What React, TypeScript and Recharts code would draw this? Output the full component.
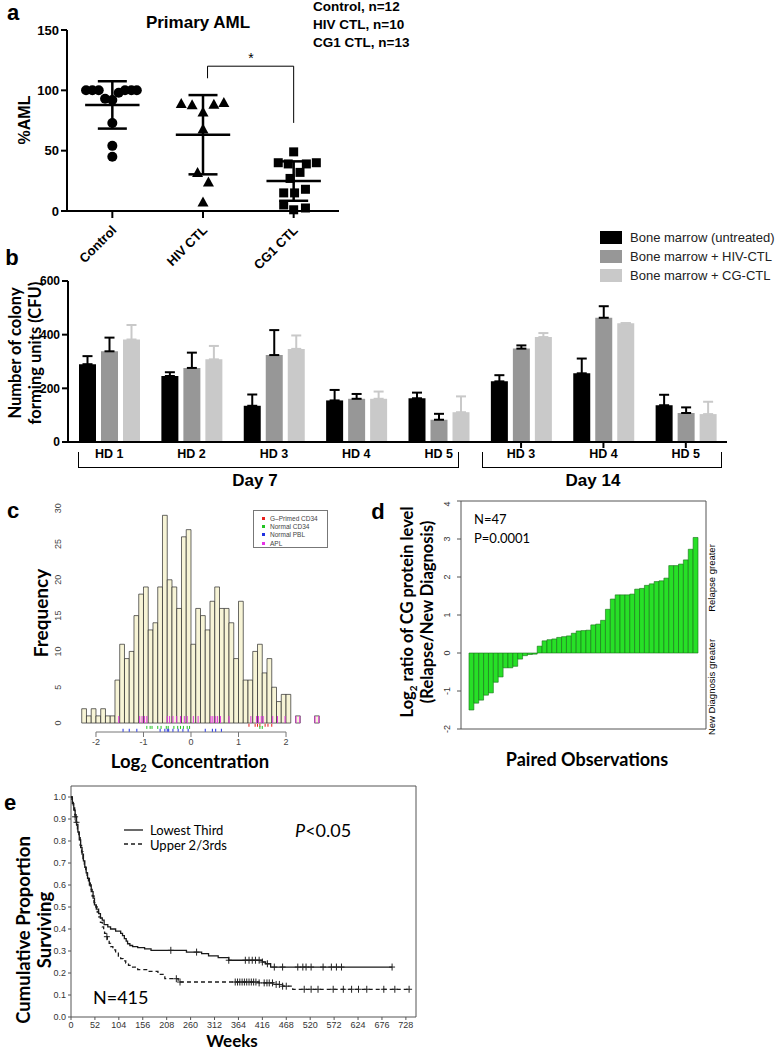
import React from 'react';
import {
  Bar,
  BarChart,
  ComposedChart,
  ErrorBar,
  Legend,
  Line,
  ReferenceArea,
  ReferenceLine,
  Scatter,
  ScatterChart,
  XAxis,
  YAxis,
} from 'recharts';

const ARIAL = '"Liberation Sans", Arial, sans-serif';
const CALIBRI = 'Lato, "Open Sans", sans-serif';

// a: primary AML killing
const amlGroups = ['Control', 'HIV CTL', 'CG1 CTL'];
const amlCounts = ['Control, n=12', 'HIV CTL, n=10', 'CG1 CTL, n=13'];
const controlAml = [100, 100, 100, 93, 92, 98, 100, 100, 100, 73, 54, 45];
const controlJitter = [-0.29, -0.22, -0.15, -0.08, 0, 0.07, 0.14, 0.21, 0.27, 0, 0, 0];
const hivAml = [89, 88, 82, 88.5, 90, 68, 32, 24, 7.5];
const hivJitter = [-0.24, -0.12, 0, 0.12, 0.23, 0, -0.06, 0.06, 0];
const cg1Aml = [49, 40, 39, 40, 39, 32, 27, 18, 15, 15, 5, 2.5, 1];
const cg1Jitter = [0, -0.17, -0.06, 0.25, 0.14, 0.07, -0.04, 0.13, -0.11, 0.01, -0.11, 0.13, 0];
const sigBracket = { from: 2.05, to: 3, top: 120, leftEnd: 110, rightEnd: 73 };

// b: colony forming units
const cfuDonors = ['HD 1', 'HD 2', 'HD 3', 'HD 4', 'HD 5', 'HD 3', 'HD 4', 'HD 5'];
const cfuUntreated = [290, 246, 135, 155, 163, 226, 256, 137];
const cfuUntreatedErr = [30, 14, 42, 39, 21, 23, 55, 39];
const cfuHiv = [338, 276, 324, 161, 83, 348, 463, 108];
const cfuHivErr = [51, 57, 93, 18, 22, 12, 43, 21];
const cfuCg = [382, 308, 347, 161, 111, 391, 443, 104];
const cfuCgErr = [54, 50, 50, 27, 59, 15, 0, 46];
const cfuSeries = ['Bone marrow (untreated)', 'Bone marrow + HIV-CTL', 'Bone marrow + CG-CTL'];
const cfuColors = ['#000000', '#979797', '#c9c9c9'];

// c: histogram of log2 concentration
const histStart = -2.3;
const binWidth = 0.1;
const freqCounts = [
  2, 1, 2, 1, 2, 1, 1, 6, 11, 9, 10, 15, 18, 19, 13, 14, 19, 29, 20, 19, 16, 26, 27, 11, 16,
  15, 13, 17, 19, 16, 16, 14, 9, 17, 6, 6, 10, 11, 7, 9, 5, 3, 4, 4, 0, 1, 0, 0, 0, 1,
];
const aplRug = [
  -1.52, -1.08, -1.03, -0.98, -0.93, -0.5, -0.45, -0.38, -0.3, -0.22, -0.14, -0.08, 0.05, 0.15,
  0.42, 0.46, 0.52, 0.56, 0.62, 0.8, 1.26, 1.38, 1.42, 1.48, 1.52, 1.72, 1.82, 1.98, 2.21, 2.29,
  2.61, 2.69,
];
const cd34Rug = [-0.93, -0.86, -0.82, -0.7, -0.63, -0.52, -0.48, -0.36, -0.28, -0.22, -0.16, -0.08, -0.03, 1.45, 1.5];
const pblRug = [-1.43, -1.3, -1.14, -0.65, -0.55, -0.5, -0.47, -0.38, -0.27, -0.17, -0.06, 0.3, 0.45, 0.52, 0.64];
const gPrimedRug = [1.22, 1.35, 1.4, 1.45, 1.56, 1.62, 1.7];
const rugNames = ['G\u2013Primed CD34', 'Normal CD34', 'Normal PBL', 'APL'];
const rugColors = ['#e8201e', '#22c322', '#2030e0', '#e533e5'];

// d: paired relapse / new diagnosis ratios
const ratioVals = [
  -1.5, -1.32, -1.24, -1.11, -1.05, -0.77, -0.63, -0.39, -0.39, -0.35, -0.16, -0.07, -0.04, -0.03,
  0.18, 0.32, 0.35, 0.37, 0.41, 0.43, 0.45, 0.52, 0.58, 0.59, 0.6, 0.74, 0.76, 0.86, 1.15, 1.42,
  1.53, 1.53, 1.53, 1.55, 1.68, 1.7, 1.78, 1.82, 1.88, 1.9, 1.97, 2.3, 2.3, 2.34, 2.45, 2.73, 3.04,
];

// e: survival
const lowestWeeks = [
  0, 3, 6, 9, 12, 15, 18, 21, 24, 27, 30, 33, 36, 40, 44, 48, 51, 55, 60, 64, 68, 72, 80, 86, 97,
  108, 112, 116, 120, 123, 128, 134, 145, 160, 174, 251, 284, 299, 320, 343, 416, 423, 434, 698,
];
const lowestSurv = [
  1.0, 0.97, 0.94, 0.91, 0.875, 0.84, 0.805, 0.77, 0.74, 0.71, 0.68, 0.655, 0.63, 0.6, 0.57, 0.54,
  0.51, 0.49, 0.47, 0.45, 0.44, 0.42, 0.41, 0.4, 0.39, 0.38, 0.37, 0.356, 0.345, 0.333, 0.325, 0.32,
  0.315, 0.31, 0.303, 0.295, 0.288, 0.278, 0.27, 0.258, 0.25, 0.242, 0.227, 0.227,
];
const lowestCensored = [9, 217, 273, 343, 379, 387, 394, 401, 409, 416, 427, 442, 460, 493, 504, 511, 522, 548, 566, 577, 588, 698];
const upperWeeks = [
  0, 2, 5, 8, 11, 14, 17, 20, 23, 26, 29, 32, 35, 38, 42, 46, 50, 54, 57, 60, 64, 68, 71, 73, 76,
  79, 83, 86, 91, 97, 103, 108, 113, 119, 125, 130, 145, 167, 189, 204, 233, 409, 440, 460, 482, 735,
];
const upperSurv = [
  1.0, 0.98, 0.95, 0.92, 0.885, 0.85, 0.815, 0.78, 0.75, 0.72, 0.69, 0.66, 0.635, 0.61, 0.58, 0.55,
  0.52, 0.5, 0.477, 0.455, 0.43, 0.41, 0.395, 0.38, 0.365, 0.35, 0.335, 0.32, 0.305, 0.29, 0.277,
  0.265, 0.255, 0.245, 0.235, 0.227, 0.215, 0.207, 0.194, 0.174, 0.159, 0.155, 0.148, 0.14, 0.126, 0.126,
];
const upperCensored = [
  12, 78, 229, 237, 357, 362, 367, 372, 377, 382, 387, 392, 397, 402, 409, 420, 426, 431, 438, 446,
  453, 460, 468, 507, 522, 537, 570, 592, 610, 625, 643, 680, 704, 735,
];
const weekTicks = [0, 52, 104, 156, 208, 260, 312, 364, 416, 468, 520, 572, 624, 676, 728];
const survTicks = [0, 0.1, 0.2, 0.3, 0.4, 0.5, 0.6, 0.7, 0.8, 0.9, 1.0];

type TxtProps = {
  x: number;
  y: number;
  children: React.ReactNode;
  size?: number;
  weight?: number;
  family?: string;
  rotate?: number;
  align?: 'start' | 'middle';
  color?: string;
};

function Txt({ x, y, children, size = 14, weight = 700, family = ARIAL, rotate = 0, align = 'middle', color = '#000' }: TxtProps) {
  const tx = align === 'middle' ? '-50%' : '0';
  return (
    <div
      style={{
        position: 'absolute',
        left: x,
        top: y,
        transform: `translate(${tx}, -50%) rotate(${rotate}deg)`,
        fontSize: size,
        fontWeight: weight,
        fontFamily: family,
        color,
        whiteSpace: 'nowrap',
        lineHeight: 1,
      }}
    >
      {children}
    </div>
  );
}

const meanSd = (v: number[]) => {
  const m = v.reduce((a, b) => a + b, 0) / v.length;
  const sd = Math.sqrt(v.reduce((a, b) => a + (b - m) ** 2, 0) / (v.length - 1));
  return { m, sd };
};

const markShape = (kind: string) => (p: any) => {
  const { cx, cy } = p;
  if (kind === 'circle') return <circle cx={cx} cy={cy} r={5} fill="#000" />;
  if (kind === 'triangle') return <path d={`M${cx},${cy - 5.5}L${cx + 5.5},${cy + 4.5}L${cx - 5.5},${cy + 4.5}Z`} fill="#000" />;
  return <rect x={cx - 4.5} y={cy - 4.5} width={9} height={9} fill="#000" />;
};

function AmlTick(props: any) {
  const { x, y, payload } = props;
  const tx = x + 5;
  const ty = y + 11;
  return (
    <text x={tx} y={ty} transform={`rotate(-45 ${tx} ${ty})`} textAnchor="end" fontFamily={ARIAL} fontWeight={700} fontSize={13} fill="#000">
      {amlGroups[payload.value - 1]}
    </text>
  );
}

function PanelA() {
  const sets = [
    { vals: controlAml, jit: controlJitter, kind: 'circle' },
    { vals: hivAml, jit: hivJitter, kind: 'triangle' },
    { vals: cg1Aml, jit: cg1Jitter, kind: 'square' },
  ];
  const bar = { stroke: '#000', strokeWidth: 2.5 };
  return (
    <div style={{ position: 'absolute', left: 0, top: 0 }}>
      <ScatterChart width={460} height={275} margin={{ top: 30, right: 121, bottom: 14, left: 0 }}>
        <XAxis
          type="number"
          dataKey="x"
          domain={[0.5, 3.5]}
          ticks={[1, 2, 3]}
          height={50}
          tickSize={7}
          tickLine={{ stroke: '#000', strokeWidth: 2 }}
          axisLine={{ stroke: '#000', strokeWidth: 2 }}
          tick={<AmlTick />}
        />
        <YAxis
          type="number"
          dataKey="y"
          domain={[0, 150]}
          ticks={[0, 50, 100, 150]}
          width={67}
          tickSize={6}
          tickLine={{ stroke: '#000', strokeWidth: 2 }}
          axisLine={{ stroke: '#000', strokeWidth: 2 }}
          tick={{ fontFamily: ARIAL, fontWeight: 700, fontSize: 13, fill: '#000' }}
        />
        {sets.map((s, gi) => {
          const { m, sd } = meanSd(s.vals);
          const c = gi + 1;
          return [
            <ReferenceLine key={`m${gi}`} segment={[{ x: c - 0.3, y: m }, { x: c + 0.3, y: m }]} {...bar} />,
            <ReferenceLine key={`v${gi}`} segment={[{ x: c, y: m - sd }, { x: c, y: m + sd }]} {...bar} />,
            <ReferenceLine key={`h${gi}`} segment={[{ x: c - 0.16, y: m + sd }, { x: c + 0.16, y: m + sd }]} {...bar} />,
            <ReferenceLine key={`l${gi}`} segment={[{ x: c - 0.16, y: m - sd }, { x: c + 0.16, y: m - sd }]} {...bar} />,
          ];
        })}
        <ReferenceLine segment={[{ x: sigBracket.from, y: sigBracket.leftEnd }, { x: sigBracket.from, y: sigBracket.top }]} stroke="#000" strokeWidth={1} />
        <ReferenceLine segment={[{ x: sigBracket.from, y: sigBracket.top }, { x: sigBracket.to, y: sigBracket.top }]} stroke="#000" strokeWidth={1} />
        <ReferenceLine segment={[{ x: sigBracket.to, y: sigBracket.top }, { x: sigBracket.to, y: sigBracket.rightEnd }]} stroke="#000" strokeWidth={1} />
        {sets.map((s, gi) => (
          <Scatter
            key={gi}
            data={s.vals.map((y, i) => ({ x: gi + 1 + s.jit[i], y }))}
            shape={markShape(s.kind)}
            isAnimationActive={false}
          />
        ))}
      </ScatterChart>
      <Txt x={13} y={13} size={22}>a</Txt>
      <Txt x={198} y={22} size={17}>Primary AML</Txt>
      <Txt x={251} y={58} size={14} weight={400}>*</Txt>
      {amlCounts.map((t, i) => (
        <Txt key={t} x={313} y={7 + i * 18} size={13.5} align="start">{t}</Txt>
      ))}
      <Txt x={25} y={120} size={16} rotate={-90}>%AML</Txt>
    </div>
  );
}

function HdTick(props: any) {
  const { x, y, payload, index } = props;
  return (
    <g>
      {index >= 5 && <line x1={x} x2={x} y1={y - 8} y2={y - 2} stroke="#000" strokeWidth={2} />}
      <text x={x} y={y + 7.5} textAnchor="middle" fontFamily={ARIAL} fontWeight={700} fontSize={12.5} fill="#000">
        {payload.value}
      </text>
    </g>
  );
}

function PanelB() {
  const data = cfuDonors.map((name, i) => ({
    name,
    untreated: cfuUntreated[i],
    untreatedErr: [0, cfuUntreatedErr[i]],
    hiv: cfuHiv[i],
    hivErr: [0, cfuHivErr[i]],
    cg: cfuCg[i],
    cgErr: [0, cfuCgErr[i]],
  }));
  const keys = ['untreated', 'hiv', 'cg'];
  const errColors = ['#000000', '#000000', '#c9c9c9'];
  return (
    <div style={{ position: 'absolute', left: 0, top: 228 }}>
      <BarChart width={778} height={270} data={data} margin={{ top: 53, right: 51, bottom: 32, left: 0 }} barGap={5}>
        <XAxis
          dataKey="name"
          height={24}
          tickLine={false}
          axisLine={{ stroke: '#000', strokeWidth: 2 }}
          tick={<HdTick />}
          interval={0}
        />
        <YAxis
          domain={[0, 600]}
          ticks={[0, 200, 400, 600]}
          width={68}
          tickSize={6}
          tickLine={{ stroke: '#000', strokeWidth: 2 }}
          axisLine={{ stroke: '#000', strokeWidth: 2 }}
          tick={{ fontFamily: ARIAL, fontWeight: 700, fontSize: 12, fill: '#000' }}
        />
        {keys.map((k, i) => (
          <Bar key={k} dataKey={k} name={cfuSeries[i]} fill={cfuColors[i]} barSize={17} isAnimationActive={false}>
            <ErrorBar dataKey={`${k}Err`} width={5} stroke={errColors[i]} strokeWidth={2} direction="y" />
          </Bar>
        ))}
        <Legend
          layout="horizontal"
          verticalAlign="middle"
          align="center"
          wrapperStyle={{ top: 0, left: 600, width: 178 }}
          content={() => (
            <div>
              {cfuSeries.map((s, i) => (
                <div key={s} style={{ display: 'flex', alignItems: 'center', height: 19 }}>
                  <span style={{ width: 22, height: 13, background: cfuColors[i], marginRight: 8, flex: 'none' }} />
                  <span style={{ fontSize: 13, fontFamily: ARIAL, color: '#222', whiteSpace: 'nowrap' }}>{s}</span>
                </div>
              ))}
            </div>
          )}
        />
      </BarChart>
      <div style={{ position: 'absolute', left: 78, top: 224, width: 379, height: 15, borderLeft: '1px solid #000', borderRight: '1px solid #000', borderBottom: '1px solid #000' }} />
      <div style={{ position: 'absolute', left: 482, top: 224, width: 238, height: 15, borderLeft: '1px solid #000', borderRight: '1px solid #000', borderBottom: '1px solid #000' }} />
      <Txt x={255} y={252} size={17}>Day 7</Txt>
      <Txt x={593} y={252} size={17}>Day 14</Txt>
      <Txt x={12} y={30} size={22}>b</Txt>
      <Txt x={15} y={125} size={16.5} family={CALIBRI} rotate={-90}>Number of colony</Txt>
      <Txt x={35} y={125} size={16.5} family={CALIBRI} rotate={-90}>forming units (CFU)</Txt>
    </div>
  );
}

const rotYTick = (shift: number, color: string) => (props: any) => {
  const { x, y, payload } = props;
  const tx = x + shift;
  return (
    <text x={tx} y={y} transform={`rotate(-90 ${tx} ${y})`} textAnchor="middle" fontSize={9} fill={color} fontFamily={ARIAL}>
      {payload.value}
    </text>
  );
};

const rugShape = (color: string, up: number, down: number) => (p: any) => (
  <line x1={p.cx} x2={p.cx} y1={p.cy - up} y2={p.cy + down} stroke={color} strokeWidth={1} />
);

function PanelC() {
  const bins = freqCounts.map((count, i) => ({ x: +(histStart + (i + 0.5) * binWidth).toFixed(3), count }));
  const rugs = [
    { vals: gPrimedRug, y: -0.1, up: 0, down: 3, color: rugColors[0] },
    { vals: cd34Rug, y: -0.4, up: 0, down: 3, color: rugColors[1] },
    { vals: pblRug, y: -0.8, up: 0, down: 3, color: rugColors[2] },
    { vals: aplRug, y: 0, up: 7, down: 0, color: rugColors[3] },
  ];
  return (
    <div style={{ position: 'absolute', left: 0, top: 495 }}>
      <ComposedChart width={340} height={260} data={bins} margin={{ top: 6, right: 13.6, bottom: 3, left: 0 }}>
        <XAxis
          type="number"
          dataKey="x"
          domain={[-2.45, 2.85]}
          ticks={[-2, -1, 0, 1, 2]}
          allowDataOverflow
          height={20}
          axisLine={false}
          tickSize={5}
          tickLine={{ stroke: '#777' }}
          tick={{ fontSize: 9, fill: '#444', fontFamily: ARIAL }}
        />
        <XAxis xAxisId="rug" type="number" dataKey="x" domain={[-2.45, 2.85]} allowDataOverflow hide />
        <YAxis
          type="number"
          domain={[-1.25, 31]}
          ticks={[0, 5, 10, 15, 20, 25, 30]}
          allowDataOverflow
          width={74.6}
          axisLine={false}
          tickLine={false}
          tick={rotYTick(-6, '#444')}
        />
        <Bar dataKey="count" barSize={4.75} fill="#f7f4d6" stroke="#2a2a2a" strokeWidth={0.7} isAnimationActive={false} />
        {rugs.map((r, i) => (
          <Scatter
            key={i}
            xAxisId="rug"
            dataKey="y"
            data={r.vals.map((x) => ({ x, y: r.y }))}
            shape={rugShape(r.color, r.up, r.down)}
            isAnimationActive={false}
          />
        ))}
        <ReferenceLine segment={[{ x: -2, y: -1.25 }, { x: 2, y: -1.25 }]} stroke="#777" ifOverflow="visible" />
      </ComposedChart>
      <div style={{ position: 'absolute', left: 253, top: 15, width: 75, height: 38, border: '1px solid #777', boxSizing: 'border-box', padding: '3px 0 0 8px' }}>
        {rugNames.map((n, i) => (
          <div key={n} style={{ display: 'flex', alignItems: 'center', height: 8.4 }}>
            <span style={{ width: 3, height: 3, background: rugColors[i], marginRight: 5, flex: 'none' }} />
            <span style={{ fontSize: 6.5, fontFamily: ARIAL, color: '#444', whiteSpace: 'nowrap' }}>{n}</span>
          </div>
        ))}
      </div>
      <Txt x={13} y={16} size={22}>c</Txt>
      <Txt x={40} y={118} size={19} family={CALIBRI} rotate={-90}>Frequency</Txt>
      <Txt x={190} y={266} size={18.5} family={CALIBRI}>
        Log<sub style={{ fontSize: '0.6em', lineHeight: 0 }}>2</sub> Concentration
      </Txt>
    </div>
  );
}

function PanelD() {
  const data = ratioVals.map((v, i) => ({ i: i + 1, v }));
  return (
    <div style={{ position: 'absolute', left: 400, top: 495 }}>
      <ComposedChart width={378} height={270} data={data} margin={{ top: 6, right: 72, bottom: 36, left: 0 }}>
        <XAxis type="number" dataKey="i" domain={[-1.14, 49.14]} allowDataOverflow hide />
        <YAxis
          type="number"
          domain={[-2, 4]}
          ticks={[-2, -1, 0, 1, 2, 3, 4]}
          allowDataOverflow
          width={61}
          axisLine={false}
          tickSize={4}
          tickLine={{ stroke: '#555' }}
          tick={rotYTick(-5, '#333')}
        />
        <Bar dataKey="v" barSize={4.87} fill="#27e027" stroke="#166f16" strokeWidth={0.6} isAnimationActive={false} />
        <ReferenceArea x1={-1.14} x2={49.14} y1={-2} y2={4} fill="none" stroke="#555" strokeWidth={1} ifOverflow="visible" />
      </ComposedChart>
      <Txt x={-22} y={17} size={22}>d</Txt>
      <Txt x={7} y={117} size={16.5} family={CALIBRI} rotate={-90}>
        Log<sub style={{ fontSize: '0.6em', lineHeight: 0 }}>2</sub> ratio of CG protein level
      </Txt>
      <Txt x={27} y={117} size={16.5} family={CALIBRI} rotate={-90}>(Relapse/New Diagnosis)</Txt>
      <Txt x={74} y={24} size={13} weight={400} family={CALIBRI} align="start">N=47</Txt>
      <Txt x={74} y={43} size={13} weight={400} family={CALIBRI} align="start">P=0.0001</Txt>
      <Txt x={312} y={83} size={9.5} weight={400} rotate={-90}>Relapse greater</Txt>
      <Txt x={312} y={192} size={9.5} weight={400} rotate={-90}>New Diagnosis greater</Txt>
      <Txt x={187} y={264} size={18} family={CALIBRI}>Paired Observations</Txt>
    </div>
  );
}

const survAt = (weeks: number[], surv: number[], t: number) => {
  let s = surv[0];
  for (let i = 0; i < weeks.length; i++) if (weeks[i] <= t) s = surv[i];
  return s;
};

const censorShape = (p: any) => (
  <path d={`M${p.cx - 3},${p.cy}h6M${p.cx},${p.cy - 3.5}v7`} stroke="#222" strokeWidth={1} fill="none" />
);

function PanelE() {
  const lowest = lowestWeeks.map((t, i) => ({ t, s: lowestSurv[i] }));
  const upper = upperWeeks.map((t, i) => ({ t, s: upperSurv[i] }));
  const lowestCens = lowestCensored.map((t) => ({ t, s: survAt(lowestWeeks, lowestSurv, t) }));
  const upperCens = upperCensored.map((t) => ({ t, s: survAt(upperWeeks, upperSurv, t) }));
  return (
    <div style={{ position: 'absolute', left: 0, top: 780 }}>
      <ComposedChart width={440} height={269} margin={{ top: 6, right: 24, bottom: 12, left: 0 }}>
        <XAxis
          type="number"
          dataKey="t"
          domain={[0, 750]}
          ticks={weekTicks}
          allowDataOverflow
          height={20}
          axisLine={false}
          tickSize={3}
          tickLine={{ stroke: '#555' }}
          tick={{ fontSize: 9, fill: '#333', fontFamily: ARIAL }}
        />
        <YAxis
          type="number"
          domain={[0, 1.05]}
          ticks={survTicks}
          allowDataOverflow
          width={71}
          axisLine={false}
          tickSize={3}
          tickLine={{ stroke: '#555' }}
          tickFormatter={(v: number) => v.toFixed(1)}
          tick={{ fontSize: 9, fill: '#333', fontFamily: ARIAL }}
        />
        <ReferenceArea x1={0} x2={750} y1={0} y2={1.05} fill="none" stroke="#555" strokeWidth={1} ifOverflow="visible" />
        <Line data={lowest} dataKey="s" type="stepAfter" stroke="#1a1a1a" strokeWidth={1.3} dot={false} isAnimationActive={false} />
        <Line data={upper} dataKey="s" type="stepAfter" stroke="#1a1a1a" strokeWidth={1.3} strokeDasharray="4 3" dot={false} isAnimationActive={false} />
        <Scatter data={lowestCens} dataKey="s" shape={censorShape} isAnimationActive={false} />
        <Scatter data={upperCens} dataKey="s" shape={censorShape} isAnimationActive={false} />
      </ComposedChart>
      <svg style={{ position: 'absolute', left: 124, top: 46 }} width={20} height={20}>
        <line x1={0} x2={19} y1={4} y2={4} stroke="#1a1a1a" strokeWidth={1.3} />
        <line x1={0} x2={19} y1={18} y2={18} stroke="#1a1a1a" strokeWidth={1.3} strokeDasharray="4 3" />
      </svg>
      <Txt x={150} y={50} size={13} weight={400} family={CALIBRI} align="start">Lowest Third</Txt>
      <Txt x={150} y={64.5} size={13} weight={400} family={CALIBRI} align="start">Upper 2/3rds</Txt>
      <Txt x={295} y={50} size={18} weight={400} family={CALIBRI} align="start">
        <i>P</i>&lt;0.05
      </Txt>
      <Txt x={93} y={217} size={18} weight={400} family={CALIBRI} align="start">N=415</Txt>
      <Txt x={10} y={23} size={22}>e</Txt>
      <Txt x={23} y={150} size={18.5} family={CALIBRI} rotate={-90}>Cumulative Proportion</Txt>
      <Txt x={44} y={150} size={18.5} family={CALIBRI} rotate={-90}>Surviving</Txt>
      <Txt x={232} y={260} size={17} family={CALIBRI}>Weeks</Txt>
    </div>
  );
}

export default function App() {
  return (
    <div style={{ position: 'absolute', left: 0, top: 0, width: 778, height: 1049, background: '#fff', overflow: 'hidden' }}>
      <PanelA />
      <PanelB />
      <PanelC />
      <PanelD />
      <PanelE />
    </div>
  );
}
